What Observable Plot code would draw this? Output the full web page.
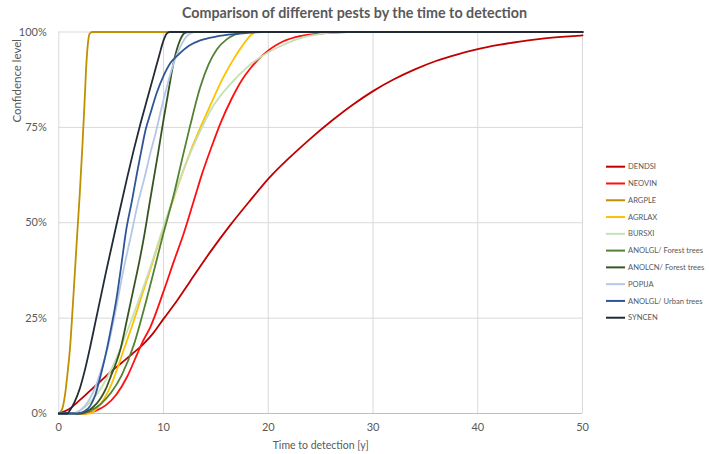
<!DOCTYPE html>
<html><head><meta charset="utf-8">
<script src="https://cdn.jsdelivr.net/npm/d3@7"></script>
<script src="https://cdn.jsdelivr.net/npm/@observablehq/plot@0.6"></script>
<style>
body{margin:0;background:#fff;}
#wrap{position:relative;width:709px;height:454px;font-family:Lato,sans-serif;background:#fff;}
#title{position:absolute;left:0;top:0;width:709px;height:26px;text-align:center;font-weight:bold;font-size:14.3px;line-height:25px;color:#595959;}
#chart{position:absolute;left:0;top:26px;}
#legend{position:absolute;left:0;top:0;}
</style></head><body>
<div id="wrap"><div id="title">Comparison of different pests by the time to detection</div><div id="chart"></div><svg id="legend" width="709" height="454"></svg></div>
<script>
// ---- data (x = years, y = confidence %) ----
const xTicks = [0, 10, 20, 30, 40, 50];
const yTicks = [0, 0.25, 0.5, 0.75, 1];
const seriesNames = ["DENDSI","NEOVIN","ARGPLE","AGRLAX","BURSXI","ANOLGL/ Forest trees","ANOLCN/ Forest trees","POPIJA","ANOLGL/ Urban trees","SYNCEN"];
const seriesColors = ["#C00000","#FF1010","#BF9000","#FFC000","#C5E0B4","#548235","#375623","#B4C7E7","#2F5597","#222A35"];

const DENDSI = [[0,0],[1,1.2],[2,3.5],[3,6],[4,8.5],[5,11],[6,13.3],[7,15.6],[8,18],[9,21],[10,24.8],[11.3,29.6],[12.5,34.5],[14.45,42.3],[16.35,49.3],[18.26,55.8],[20,61.5],[22,67],[24,72],[26,76.6],[28,80.8],[30,84.5],[32,87.6],[34,90.2],[36,92.4],[38,94.1],[40,95.5],[42,96.6],[44,97.5],[46,98.2],[48,98.7],[50,99.1]];
const NEOVIN = [[0,0],[2.5,0],[3.5,0.7],[4.5,2.2],[5.5,5],[6.5,9.5],[7.47,15.5],[8,18.8],[8.73,22.6],[10,32],[11,40],[11.9,47],[12.86,55.5],[13.7,63],[14.6,70],[15.5,76.5],[16.5,82.5],[17.5,87.5],[18.3,90.5],[19.5,94],[21.4,97.5],[23,98.9],[25,99.6],[27.5,100],[50,100]];
const ARGPLE = [[0,0],[0.3,1],[0.6,5],[0.85,11],[1.05,16.5],[1.4,31],[1.75,46.7],[2,57.5],[2.25,70],[2.45,81],[2.64,92],[2.8,97.5],[2.95,99.6],[3.2,100],[50,100]];
const AGRLAX = [[0,0],[2.9,0],[3.3,0.5],[4,2.5],[5,7.5],[6.3,17.5],[7,23],[8,31.5],[9,40],[9.8,47],[10.16,50],[11.1,57.5],[12,64.5],[12.9,71],[13.6,75.5],[14.5,81],[15.5,87],[16.6,92.5],[17.5,96.3],[18.2,98.8],[18.8,100],[50,100]];
const BURSXI = [[0,0],[1.2,0],[2,0.8],[3,3],[4,6.5],[5,11.5],[6,17.8],[7,25],[8,32.5],[9,40.5],[9.7,46.5],[11,57],[12,64.5],[13.5,74],[14.5,79.5],[16.6,87],[18,90.8],[20,94.7],[21.5,96.7],[23.2,98.5],[25,99.5],[27,100],[50,100]];
const ANOLGL_F = [[0,0],[2.2,0],[3,0.7],[4,2.5],[5,5.5],[6,10],[7.14,17.8],[8,26],[9,36.5],[9.94,46.7],[10.95,57],[11.8,67],[12.5,75],[13.5,85.5],[14.3,91.5],[15.1,95.5],[16,98],[16.8,99.3],[18,100],[50,100]];
const ANOLCN_F = [[0,0],[2,0],[2.6,0.5],[3.2,1.5],[4,4],[4.5,6.5],[5,10],[5.5,13.5],[5.9,17],[6.5,24.5],[7.2,33.5],[7.7,40],[8.16,46.7],[8.6,54],[9,60.5],[9.52,68.9],[10,77],[10.5,85],[11,92.5],[11.6,98],[12,99.7],[12.4,100],[50,100]];
const POPIJA = [[0,0],[1.4,0],[2,0.7],[2.5,2],[2.86,3.4],[3.5,7],[4,11],[4.6,16.5],[5.5,28],[6.2,38],[6.92,47],[7.5,54.5],[8.2,62],[8.8,68.9],[9.2,73],[9.8,80],[10.4,86.5],[10.95,91.7],[11.5,95.5],[12.1,98.5],[12.6,99.7],[13,100],[50,100]];
const ANOLGL_U = [[0,0],[1.8,0],[2.4,0.5],[3,2],[3.5,5],[4,10],[4.6,17],[5,22.5],[5.5,30],[6,39.5],[6.4,47.5],[7,56],[7.5,63.5],[7.88,68.9],[8.3,74.5],[8.73,78.5],[9.37,84.2],[10,88.5],[10.64,91.8],[11.4,94],[12.5,96.5],[13.5,97.8],[15,98.8],[17,99.5],[19.5,100],[50,100]];
const SYNCEN = [[0,0],[0.8,0],[1.1,1],[1.5,3],[2,6.5],[2.5,11.5],[3,17.5],[3.5,24],[4.5,37],[5.55,50],[6.5,61.5],[7.14,68.9],[7.8,76],[8.5,83],[9.05,88.5],[9.6,94],[10,97.8],[10.3,99.6],[10.6,100],[50,100]];

const seriesData = [DENDSI, NEOVIN, ARGPLE, AGRLAX, BURSXI, ANOLGL_F, ANOLCN_F, POPIJA, ANOLGL_U, SYNCEN];

const rows = seriesData.flatMap((pts, i) => pts.map(([x, y]) => ({name: seriesNames[i], x, y: y / 100})));

const chart = Plot.plot({
  width: 709, height: 428,
  marginLeft: 58.3, marginRight: 127, marginTop: 5.5, marginBottom: 41,
  style: {fontFamily: "Lato, sans-serif", fontSize: "11px", color: "#595959", background: "white"},
  x: {domain: [0, 50], ticks: xTicks, tickSize: 0, tickPadding: 10, label: null},
  y: {domain: [0, 1], ticks: yTicks, tickFormat: d3.format(".0%"), tickSize: 0, tickPadding: 12, label: null},
  color: {domain: seriesNames, range: seriesColors},
  marks: [
    Plot.ruleX(xTicks, {stroke: "#d9d9d9"}),
    Plot.ruleY(yTicks.filter(d => d > 0), {stroke: "#d9d9d9"}),
    Plot.ruleY([0], {stroke: "#bfbfbf"}),
    ...seriesNames.map(n => Plot.line(rows.filter(r => r.name === n), {x: "x", y: "y", stroke: "name", strokeWidth: 1.8, curve: "monotone-x"})),
    Plot.text(["Time to detection [y]"], {frameAnchor: "bottom", dy: 35, text: d => d, fontSize: 10.5, fill: "#595959"}),
    Plot.text(["Confidence level"], {frameAnchor: "top-left", dx: -46, dy: 7, rotate: -90, textAnchor: "end", text: d => d, fontSize: 11.5, fill: "#595959"})
  ]
});
document.getElementById("chart").appendChild(chart);

// legend (line swatches)
const leg = d3.select("#legend");
seriesNames.forEach((n, i) => {
  const y = 166.7 + i * 16.78;
  leg.append("line").attr("x1", 606).attr("x2", 625).attr("y1", y).attr("y2", y)
    .attr("stroke", seriesColors[i]).attr("stroke-width", 2);
  leg.append("text").attr("x", 628).attr("y", y).attr("dy", "0.35em")
    .attr("font-family", "Lato, sans-serif").attr("font-size", 7.6).attr("fill", "#595959").text(n);
});
</script>
</body></html>
